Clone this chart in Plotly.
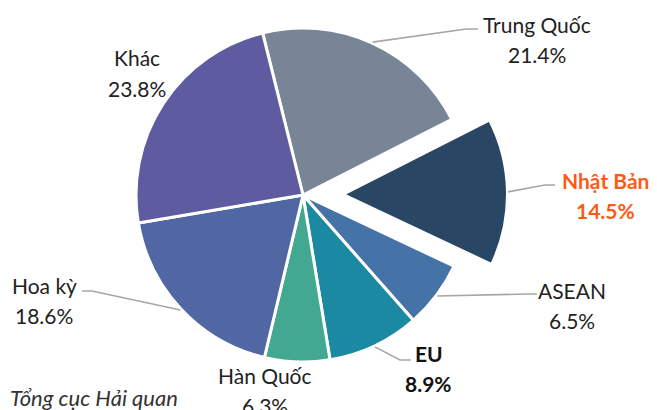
import math
import plotly.graph_objects as go

# ---- data ----
countries = ["Trung Quốc", "Nhật Bản", "ASEAN", "EU", "Hàn Quốc", "Hoa kỳ", "Khác"]
shares = [21.4, 14.5, 6.5, 8.9, 6.3, 18.6, 23.8]
source_text = "Tổng cục Hải quan"

# ---- style ----
colors = ["#778596", "#2a4665", "#4573a8", "#1a89a1", "#43a891", "#5067a3", "#5f5ba0"]
label_colors = ["#222222", "#ff5a14", "#222222", "#111111", "#222222", "#222222", "#222222"]
label_bold = [False, True, False, True, False, False, False]
pulled = "Nhật Bản"

OFF = 8                             # page body margin
W, H = 657 - OFF, 410 - OFF
CX, CY, R = 303 - OFF, 195 - OFF, 167   # pie centre / radius (px, figure coords)
PULL_PX = 41                        # displacement of the exploded slice (px)
R_PULLED = 163
ROTATION = -14
FONT = "Lato"
FS = 21

# label line-1 centres and leader elbows / ends (page px)
label_pos = [(537, 24), (605, 180), (572, 290), (429, 353), (265, 375), (44, 285), (137, 58)]
leader_pts = [
    [(466, 29), (478, 29)],
    [(545, 185), (555, 185)],
    [(528, 294), (537, 294)],
    [(400, 360), (411, 360)],
    None,
    [(92, 291), (82, 291)],
    None,
]


def fx(x):
    return min(1.0, max(0.0, x / W))


def fy(y):
    return min(1.0, max(0.0, 1 - y / H))


total = sum(shares)
mid_angles = []
acc = 0.0
for s in shares:
    mid_angles.append(math.radians(ROTATION + (acc + s / 2) / total * 360))
    acc += s

ip = countries.index(pulled)
mid_p = mid_angles[ip]

colsA = [c if n != pulled else "rgba(0,0,0,0)" for n, c in zip(countries, colors)]
lwA = [3 if n != pulled else 0 for n in countries]

apex_x = CX + PULL_PX * math.sin(mid_p)
apex_y = CY - PULL_PX * math.cos(mid_p)
half = CY - 1
pull_frac = half / R_PULLED - 1
off = pull_frac * R_PULLED
cxB = apex_x - off * math.sin(mid_p)
cyB = apex_y + off * math.cos(mid_p)
colsB = [c if n == pulled else "rgba(0,0,0,0)" for n, c in zip(countries, colors)]
lwB = [2 if n == pulled else 0 for n in countries]
pullB = [pull_frac if n == pulled else 0 for n in countries]

fig = go.Figure()
fig.add_trace(go.Pie(
    labels=countries, values=shares, sort=False, direction="clockwise",
    rotation=ROTATION, textinfo="none", hoverinfo="skip", showlegend=False,
    marker=dict(colors=colsA, line=dict(color="white", width=lwA)),
    domain=dict(x=[fx(CX - R), fx(CX + R)], y=[fy(CY + R), fy(CY - R)]),
))
fig.add_trace(go.Pie(
    labels=countries, values=shares, sort=False, direction="clockwise",
    rotation=ROTATION, textinfo="none", hoverinfo="skip", showlegend=False,
    pull=pullB,
    marker=dict(colors=colsB, line=dict(color="white", width=lwB)),
    domain=dict(x=[fx(cxB - half), fx(cxB + half)], y=[fy(cyB + half), fy(cyB - half)]),
))

annotations = []
shapes = []
for i, name in enumerate(countries):
    x, y = label_pos[i]
    x, y = x - OFF, y - OFF
    col = label_colors[i]
    b1 = f"<b>{name}</b>" if label_bold[i] else name
    pct = f"{shares[i]:.1f}%"
    b2 = f"<b>{pct}</b>" if label_bold[i] else pct
    for k, t in enumerate([b1, b2]):
        annotations.append(dict(
            x=x / W, y=1 - (y + 30 * k) / H, xref="paper", yref="paper",
            text=t, showarrow=False, xanchor="center", yanchor="middle",
            font=dict(family=FONT, size=FS, color=col),
        ))
    if leader_pts[i] is not None:
        if name == pulled:
            sx = apex_x + (R_PULLED + 1) * math.sin(mid_angles[i])
            sy = apex_y - (R_PULLED + 1) * math.cos(mid_angles[i])
        else:
            sx = CX + (R + 1) * math.sin(mid_angles[i])
            sy = CY - (R + 1) * math.cos(mid_angles[i])
        pts = [(sx, sy)] + [(a - OFF, b - OFF) for a, b in leader_pts[i]]
        path = "M " + " L ".join(f"{a / W:.5f},{1 - b / H:.5f}" for a, b in pts)
        shapes.append(dict(type="path", path=path, xref="paper", yref="paper",
                           line=dict(color="#a6a6a6", width=1.6)))

annotations.append(dict(
    x=0, y=1 - (397 - OFF) / H, xref="paper", yref="paper", text=f"<i>{source_text}</i>",
    showarrow=False, xanchor="left", yanchor="middle",
    font=dict(family=FONT, size=22, color="#333333"),
))

fig.update_layout(
    width=W, height=H, margin=dict(l=0, r=0, t=0, b=0),
    paper_bgcolor="white", plot_bgcolor="white",
    annotations=annotations, shapes=shapes,
)
fig.write_html("out.html")
